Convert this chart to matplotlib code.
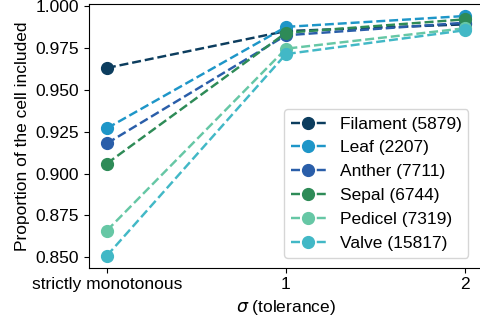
import matplotlib
matplotlib.use("Agg")
import matplotlib.pyplot as plt

plt.rcParams['font.family'] = ['Liberation Sans', 'DejaVu Sans']
plt.rcParams['mathtext.fontset'] = 'dejavusans'

x_labels = ["strictly monotonous", "1", "2"]
series_names = ["Filament (5879)", "Leaf (2207)", "Anther (7711)", "Sepal (6744)", "Pedicel (7319)", "Valve (15817)"]
filament = [0.963, 0.985, 0.989]
leaf = [0.927, 0.9875, 0.994]
anther = [0.918, 0.9825, 0.990]
sepal = [0.906, 0.984, 0.992]
pedicel = [0.866, 0.9745, 0.9867]
valve = [0.851, 0.9713, 0.9855]
colors = ["#0c3d5e", "#1e96c8", "#2a5ea9", "#2e8b57", "#66c7a5", "#42b8c6"]

FS = 12.5
fig = plt.figure(figsize=(4.8, 3.26), dpi=100)
W, H = 480, 326
ax = fig.add_axes([89 / W, 1 - 267.7 / H, 394 / W, 263.7 / H])

xs = range(len(x_labels))
for name, vals, c in zip(series_names, [filament, leaf, anther, sepal, pedicel, valve], colors):
    ax.plot(xs, vals, linestyle='--', marker='o', color=c, label=name, markersize=8.5, linewidth=1.75)

ax.set_xticks(list(xs))
ax.set_xticklabels(x_labels, fontsize=FS)
ax.set_yticks([0.850, 0.875, 0.900, 0.925, 0.950, 0.975, 1.000])
ax.set_yticklabels(["0.850", "0.875", "0.900", "0.925", "0.950", "0.975", "1.000"], fontsize=FS)
ax.set_xlabel(r"$\sigma$ (tolerance)", fontsize=FS)
ax.set_ylabel("Proportion of the cell included", fontsize=FS)
ax.legend(loc='lower right', fontsize=FS, bbox_to_anchor=(0.985, 0.005))

fig.savefig("out.png", dpi=100)
